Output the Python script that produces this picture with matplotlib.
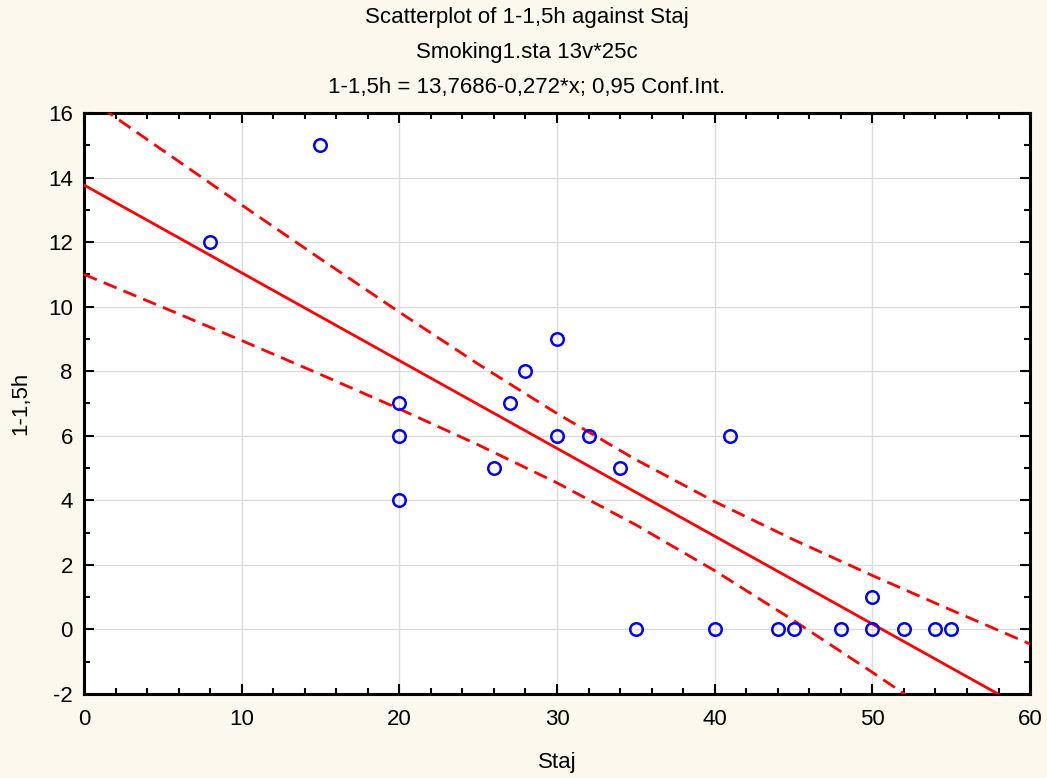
import numpy as np
import matplotlib
matplotlib.use("Agg")
import matplotlib.pyplot as plt
from matplotlib.ticker import MultipleLocator

# Datos
staj = [8, 15, 20, 20, 20, 26, 27, 28, 30, 30, 32, 34, 35, 40, 41,
        44, 45, 48, 50, 50, 52, 54, 55]
horas = [12, 15, 7, 6, 4, 5, 7, 8, 9, 6, 6, 5, 0, 0, 6,
         0, 0, 0, 1, 0, 0, 0, 0]

# Recta de regresion (del titulo)
intercepto = 13.7686
pendiente = -0.272

# Bandas de confianza 0,95
banda_x = [0, 5, 10, 15, 20, 25, 30, 35, 40, 45, 50, 55, 60]
banda_sup = [16.54, 14.84, 13.15, 11.48, 9.83, 8.22, 6.69, 5.26, 3.96, 2.78, 1.67, 0.60, -0.45]
banda_inf = [11.0, 9.98, 8.95, 7.90, 6.83, 5.72, 4.54, 3.24, 1.82, 0.28, -1.33, -2.98, -4.65]

titulos = ["Scatterplot of 1-1,5h against Staj",
           "Smoking1.sta 13v*25c",
           "1-1,5h = 13,7686-0,272*x; 0,95 Conf.Int."]

plt.rcParams["font.family"] = ["Liberation Sans", "DejaVu Sans"]
plt.rcParams["axes.unicode_minus"] = False

fondo = "#fcf8ee"
fig = plt.figure(figsize=(10.47, 7.78), dpi=100, facecolor=fondo)
ax = fig.add_axes([0.0802, 0.108, 0.9036, 0.7468])
ax.set_facecolor("white")

# Regresion y bandas
xr = np.array([banda_x[0], banda_x[-1]])
ax.plot(xr, intercepto + pendiente * xr, color="#ff0000", lw=2, zorder=3)
ax.plot(banda_x, banda_sup, color="#ff0000", lw=2, ls=(0, (5, 2.7)), zorder=3)
ax.plot(banda_x, banda_inf, color="#ff0000", lw=2, ls=(0, (5, 2.7)), zorder=3)

# Puntos
ax.plot(staj, horas, ls="none", marker="o", ms=9, mfc="none",
        mec="#0000ff", mew=1.8, zorder=4)

ax.set_xlim(0, 60)
ax.set_ylim(-2, 16)
ax.xaxis.set_major_locator(MultipleLocator(10))
ax.xaxis.set_minor_locator(MultipleLocator(2))
ax.yaxis.set_major_locator(MultipleLocator(2))
ax.yaxis.set_minor_locator(MultipleLocator(1))
ax.grid(which="major", color="#dcdcdc", lw=1, zorder=0)

ax.tick_params(which="both", direction="in", top=True, right=True,
               labelsize=16, width=1.5)
ax.tick_params(axis="x", pad=11)
ax.tick_params(axis="y", pad=8)
ax.tick_params(which="major", length=7)
ax.tick_params(which="minor", length=4)
for s in ax.spines.values():
    s.set_linewidth(2.2)

ax.set_xlabel("Staj", fontsize=16, labelpad=16)
ax.set_ylabel("1-1,5h", fontsize=16, labelpad=12)

ys = [0.978, 0.933, 0.888]
for t, y in zip(titulos, ys):
    fig.text(0.503, y, t, ha="center", va="center", fontsize=16)

fig.savefig("out.png", dpi=100, facecolor=fondo)
